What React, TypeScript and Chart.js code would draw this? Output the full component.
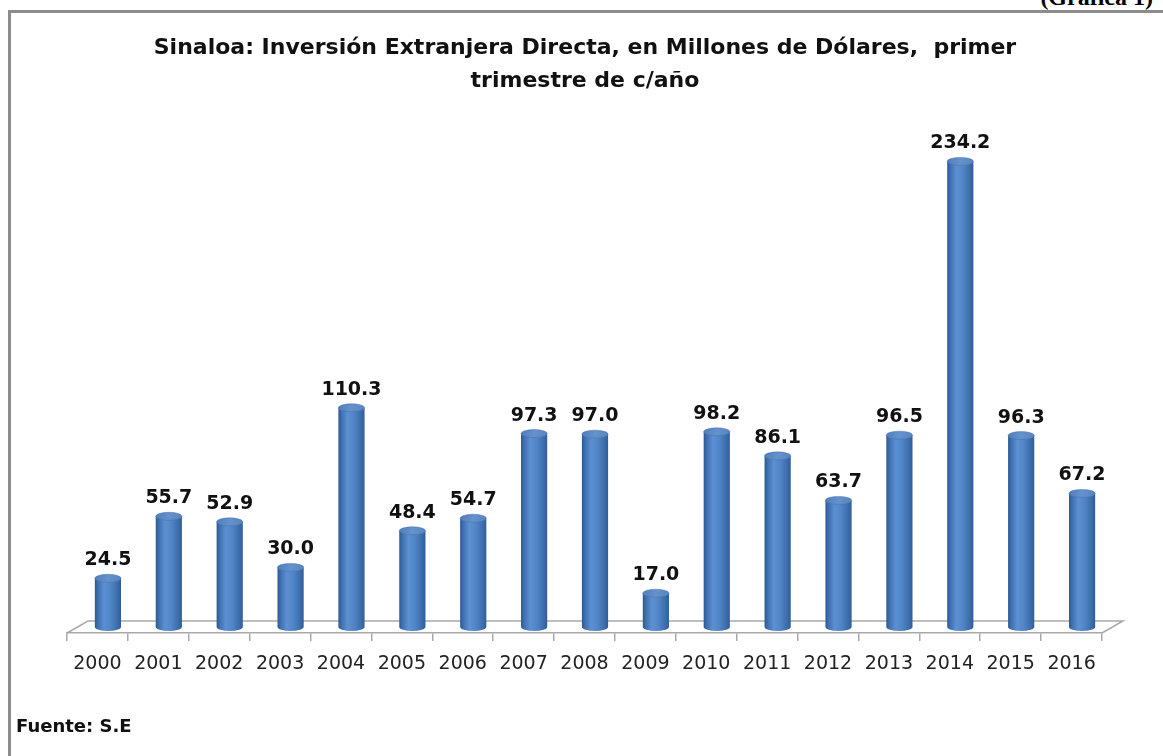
import React, { useEffect, useRef } from "react";
import { Chart, registerables } from "chart.js";

Chart.register(...registerables);

const years = ["2000","2001","2002","2003","2004","2005","2006","2007","2008","2009","2010","2011","2012","2013","2014","2015","2016"];
const inversion = [24.5, 55.7, 52.9, 30.0, 110.3, 48.4, 54.7, 97.3, 97.0, 17.0, 98.2, 86.1, 63.7, 96.5, 234.2, 96.3, 67.2];
const titleLines = ["Sinaloa: Inversión Extranjera Directa, en Millones de Dólares,  primer", "trimestre de c/año"];
const sourceText = "Fuente: S.E";
const figureText = "(Gráfica 1)";

const DEPTH_X = 21;
const DEPTH_Y = 12;
const BAR_SHIFT = 10.5;
const RY = 4;

function bodyGradient(ctx: CanvasRenderingContext2D, x0: number, x1: number) {
  const g = ctx.createLinearGradient(x0, 0, x1, 0);
  g.addColorStop(0, "#2b5890");
  g.addColorStop(0.12, "#3f70b0");
  g.addColorStop(0.35, "#5c90d2");
  g.addColorStop(0.6, "#5185c6");
  g.addColorStop(0.88, "#3b6caa");
  g.addColorStop(1, "#2f5c96");
  return g;
}

const cylinderPlugin = {
  id: "cylinder",
  beforeDatasetsDraw(chart: any) {
    const { ctx, chartArea } = chart;
    const l = chartArea.left, r = chartArea.right, b = chartArea.bottom;
    ctx.save();
    ctx.strokeStyle = "#a9a9a9";
    ctx.lineWidth = 1.5;
    ctx.beginPath();
    ctx.moveTo(l, b);
    ctx.lineTo(l + DEPTH_X, b - DEPTH_Y);
    ctx.lineTo(r + DEPTH_X, b - DEPTH_Y);
    ctx.lineTo(r, b);
    ctx.stroke();
    ctx.restore();
  },
  beforeDatasetDraw(chart: any) {
    const ctx = chart.ctx;
    ctx.save();
    ctx.translate(BAR_SHIFT, 0);
  },
  afterDatasetDraw(chart: any) {
    const ctx = chart.ctx;
    const meta = chart.getDatasetMeta(0);
    meta.data.forEach((el: any) => {
      const w = el.width;
      const x0 = el.x - w / 2;
      const x1 = el.x + w / 2;
      ctx.beginPath();
      ctx.ellipse(el.x, el.base, w / 2, RY, 0, 0, Math.PI);
      ctx.fillStyle = bodyGradient(ctx, x0, x1);
      ctx.fill();
      ctx.beginPath();
      ctx.ellipse(el.x, el.y, w / 2, RY, 0, 0, Math.PI * 2);
      const g = ctx.createLinearGradient(x0, el.y - RY, x1, el.y + RY);
      g.addColorStop(0, "#4d7dbb");
      g.addColorStop(0.5, "#6592cb");
      g.addColorStop(1, "#5784bf");
      ctx.fillStyle = g;
      ctx.fill();
      ctx.strokeStyle = "rgba(70,110,170,0.6)";
      ctx.lineWidth = 0.8;
      ctx.stroke();
    });
    ctx.restore();
  },
  afterDatasetsDraw(chart: any) {
    const ctx = chart.ctx;
    const meta = chart.getDatasetMeta(0);
    const data = chart.data.datasets[0].data;
    ctx.save();
    ctx.font = "bold 19px 'DejaVu Sans'";
    ctx.fillStyle = "#111";
    ctx.textAlign = "center";
    ctx.textBaseline = "alphabetic";
    meta.data.forEach((el: any, i: number) => {
      ctx.fillText(Number(data[i]).toFixed(1), el.x + BAR_SHIFT, el.y - 13);
    });
    ctx.restore();
  },
};

export default function App() {
  const ref = useRef<HTMLCanvasElement>(null);
  useEffect(() => {
    if (!ref.current) return;
    const chart = new Chart(ref.current, {
      type: "bar",
      data: {
        labels: years,
        datasets: [
          {
            data: inversion,
            backgroundColor: (c: any) => {
              const ch = c.chart;
              const xs = ch.scales && ch.scales.x;
              if (!xs || c.type !== "data") return "#4f81bd";
              const cx = xs.getPixelForValue(c.dataIndex);
              const w = (xs.width / years.length) * 0.43;
              if (!Number.isFinite(cx) || !Number.isFinite(w) || w <= 0) return "#4f81bd";
              return bodyGradient(ch.ctx, cx - w / 2, cx + w / 2);
            },
            borderWidth: 0,
            barPercentage: 0.43,
            categoryPercentage: 1,
          },
        ],
      },
      options: {
        responsive: false,
        animation: false,
        devicePixelRatio: 1,
        layout: { padding: { left: 67, right: 61, top: 130, bottom: 0 } },
        plugins: { legend: { display: false }, tooltip: { enabled: false }, title: { display: false } },
        scales: {
          y: { display: false, min: -3, max: 250 },
          x: {
            afterFit: (s: any) => { s.height = 123; },
            grid: { display: true, drawOnChartArea: false, drawTicks: true, tickLength: 8, color: "#a9a9a9", lineWidth: 1.5, offset: true },
            border: { display: true, color: "#a9a9a9", width: 1.5 },
            ticks: { color: "#222", font: { family: "'DejaVu Sans'", size: 19 }, padding: 12, maxRotation: 0, autoSkip: false },
          },
        },
      },
      plugins: [cylinderPlugin],
    });
    chart.update();
    return () => chart.destroy();
  }, []);

  return (
    <div style={{ position: "absolute", left: 0, top: 0, width: 1163, height: 756, overflow: "hidden", background: "#fff" }}>
      <div style={{ position: "absolute", left: 8, top: 10, width: 1200, height: 800, borderTop: "3px solid #8c8c8c", borderLeft: "3px solid #8c8c8c" }} />
      <div style={{ position: "absolute", right: 10, top: -16, fontFamily: "'Liberation Serif'", fontWeight: "bold", fontSize: 24, color: "#000", whiteSpace: "nowrap" }}>{figureText}</div>
      <canvas ref={ref} width={1163} height={756} style={{ position: "absolute", left: 0, top: 0 }} />
      <div style={{ position: "absolute", left: 0, width: 1170, top: 30, textAlign: "center", fontFamily: "'DejaVu Sans'", fontWeight: "bold", fontSize: 22, lineHeight: "33px", color: "#111", whiteSpace: "pre" }}>
        <div>{titleLines[0]}</div>
        <div>{titleLines[1]}</div>
      </div>
      <div style={{ position: "absolute", left: 16, top: 715, fontFamily: "'DejaVu Sans'", fontWeight: "bold", fontSize: 18, color: "#111" }}>{sourceText}</div>
    </div>
  );
}
